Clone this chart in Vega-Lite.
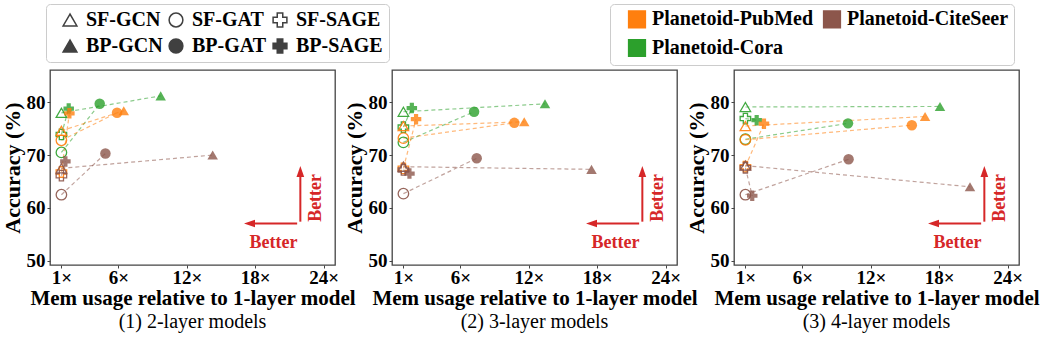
{
  "$schema": "https://vega.github.io/schema/vega-lite/v6.json",
  "background": "white",
  "padding": {"left": 0, "top": 3, "right": 0, "bottom": 0},
  "bounds": "flush",
  "spacing": 57,
  "datasets": {
    "pts": [
      {"panel": 1, "dataset": "Planetoid-Cora", "model": "SF-GCN", "method": "SF", "arch": "GCN", "mem": 1, "acc": 78.0},
      {"panel": 1, "dataset": "Planetoid-Cora", "model": "SF-GAT", "method": "SF", "arch": "GAT", "mem": 1, "acc": 70.5},
      {"panel": 1, "dataset": "Planetoid-Cora", "model": "SF-SAGE", "method": "SF", "arch": "SAGE", "mem": 1, "acc": 73.9},
      {"panel": 1, "dataset": "Planetoid-Cora", "model": "BP-GCN", "method": "BP", "arch": "GCN", "mem": 9.71, "acc": 81.2},
      {"panel": 1, "dataset": "Planetoid-Cora", "model": "BP-GAT", "method": "BP", "arch": "GAT", "mem": 4.36, "acc": 79.7},
      {"panel": 1, "dataset": "Planetoid-Cora", "model": "BP-SAGE", "method": "BP", "arch": "SAGE", "mem": 1.64, "acc": 78.8},
      {"panel": 1, "dataset": "Planetoid-PubMed", "model": "SF-GCN", "method": "SF", "arch": "GCN", "mem": 1, "acc": 74.6},
      {"panel": 1, "dataset": "Planetoid-PubMed", "model": "SF-GAT", "method": "SF", "arch": "GAT", "mem": 1, "acc": 72.8},
      {"panel": 1, "dataset": "Planetoid-PubMed", "model": "SF-SAGE", "method": "SF", "arch": "SAGE", "mem": 1, "acc": 66.8},
      {"panel": 1, "dataset": "Planetoid-PubMed", "model": "BP-GCN", "method": "BP", "arch": "GCN", "mem": 6.47, "acc": 78.4},
      {"panel": 1, "dataset": "Planetoid-PubMed", "model": "BP-GAT", "method": "BP", "arch": "GAT", "mem": 5.88, "acc": 78.0},
      {"panel": 1, "dataset": "Planetoid-PubMed", "model": "BP-SAGE", "method": "BP", "arch": "SAGE", "mem": 1.7, "acc": 77.9},
      {"panel": 1, "dataset": "Planetoid-CiteSeer", "model": "SF-GCN", "method": "SF", "arch": "GCN", "mem": 1, "acc": 67.5},
      {"panel": 1, "dataset": "Planetoid-CiteSeer", "model": "SF-GAT", "method": "SF", "arch": "GAT", "mem": 1, "acc": 62.5},
      {"panel": 1, "dataset": "Planetoid-CiteSeer", "model": "SF-SAGE", "method": "SF", "arch": "SAGE", "mem": 1, "acc": 66.1},
      {"panel": 1, "dataset": "Planetoid-CiteSeer", "model": "BP-GCN", "method": "BP", "arch": "GCN", "mem": 14.27, "acc": 70.0},
      {"panel": 1, "dataset": "Planetoid-CiteSeer", "model": "BP-GAT", "method": "BP", "arch": "GAT", "mem": 4.86, "acc": 70.3},
      {"panel": 1, "dataset": "Planetoid-CiteSeer", "model": "BP-SAGE", "method": "BP", "arch": "SAGE", "mem": 1.35, "acc": 68.8},
      {"panel": 2, "dataset": "Planetoid-Cora", "model": "SF-GCN", "method": "SF", "arch": "GCN", "mem": 1, "acc": 78.2},
      {"panel": 2, "dataset": "Planetoid-Cora", "model": "SF-GAT", "method": "SF", "arch": "GAT", "mem": 1, "acc": 72.4},
      {"panel": 2, "dataset": "Planetoid-Cora", "model": "SF-SAGE", "method": "SF", "arch": "SAGE", "mem": 1, "acc": 75.3},
      {"panel": 2, "dataset": "Planetoid-Cora", "model": "BP-GCN", "method": "BP", "arch": "GCN", "mem": 13.42, "acc": 79.7},
      {"panel": 2, "dataset": "Planetoid-Cora", "model": "BP-GAT", "method": "BP", "arch": "GAT", "mem": 7.2, "acc": 78.2},
      {"panel": 2, "dataset": "Planetoid-Cora", "model": "BP-SAGE", "method": "BP", "arch": "SAGE", "mem": 1.74, "acc": 78.9},
      {"panel": 2, "dataset": "Planetoid-PubMed", "model": "SF-GCN", "method": "SF", "arch": "GCN", "mem": 1, "acc": 75.5},
      {"panel": 2, "dataset": "Planetoid-PubMed", "model": "SF-GAT", "method": "SF", "arch": "GAT", "mem": 1, "acc": 73.2},
      {"panel": 2, "dataset": "Planetoid-PubMed", "model": "SF-SAGE", "method": "SF", "arch": "SAGE", "mem": 1, "acc": 67.5},
      {"panel": 2, "dataset": "Planetoid-PubMed", "model": "BP-GCN", "method": "BP", "arch": "GCN", "mem": 11.6, "acc": 76.3},
      {"panel": 2, "dataset": "Planetoid-PubMed", "model": "BP-GAT", "method": "BP", "arch": "GAT", "mem": 10.73, "acc": 76.1},
      {"panel": 2, "dataset": "Planetoid-PubMed", "model": "BP-SAGE", "method": "BP", "arch": "SAGE", "mem": 2.11, "acc": 76.8},
      {"panel": 2, "dataset": "Planetoid-CiteSeer", "model": "SF-GCN", "method": "SF", "arch": "GCN", "mem": 1, "acc": 67.8},
      {"panel": 2, "dataset": "Planetoid-CiteSeer", "model": "SF-GAT", "method": "SF", "arch": "GAT", "mem": 1, "acc": 62.7},
      {"panel": 2, "dataset": "Planetoid-CiteSeer", "model": "SF-SAGE", "method": "SF", "arch": "SAGE", "mem": 1, "acc": 67.2},
      {"panel": 2, "dataset": "Planetoid-CiteSeer", "model": "BP-GCN", "method": "BP", "arch": "GCN", "mem": 17.5, "acc": 67.3},
      {"panel": 2, "dataset": "Planetoid-CiteSeer", "model": "BP-GAT", "method": "BP", "arch": "GAT", "mem": 7.43, "acc": 69.4},
      {"panel": 2, "dataset": "Planetoid-CiteSeer", "model": "BP-SAGE", "method": "BP", "arch": "SAGE", "mem": 1.53, "acc": 66.5},
      {"panel": 3, "dataset": "Planetoid-Cora", "model": "SF-GCN", "method": "SF", "arch": "GCN", "mem": 1, "acc": 79.1},
      {"panel": 3, "dataset": "Planetoid-Cora", "model": "SF-GAT", "method": "SF", "arch": "GAT", "mem": 1, "acc": 73.0},
      {"panel": 3, "dataset": "Planetoid-Cora", "model": "SF-SAGE", "method": "SF", "arch": "SAGE", "mem": 1, "acc": 76.9},
      {"panel": 3, "dataset": "Planetoid-Cora", "model": "BP-GCN", "method": "BP", "arch": "GCN", "mem": 18.07, "acc": 79.2},
      {"panel": 3, "dataset": "Planetoid-Cora", "model": "BP-GAT", "method": "BP", "arch": "GAT", "mem": 10.0, "acc": 76.0},
      {"panel": 3, "dataset": "Planetoid-Cora", "model": "BP-SAGE", "method": "BP", "arch": "SAGE", "mem": 1.99, "acc": 76.6},
      {"panel": 3, "dataset": "Planetoid-PubMed", "model": "SF-GCN", "method": "SF", "arch": "GCN", "mem": 1, "acc": 75.5},
      {"panel": 3, "dataset": "Planetoid-PubMed", "model": "SF-GAT", "method": "SF", "arch": "GAT", "mem": 1, "acc": 72.9},
      {"panel": 3, "dataset": "Planetoid-PubMed", "model": "SF-SAGE", "method": "SF", "arch": "SAGE", "mem": 1, "acc": 67.8},
      {"panel": 3, "dataset": "Planetoid-PubMed", "model": "BP-GCN", "method": "BP", "arch": "GCN", "mem": 16.76, "acc": 77.3},
      {"panel": 3, "dataset": "Planetoid-PubMed", "model": "BP-GAT", "method": "BP", "arch": "GAT", "mem": 15.6, "acc": 75.65},
      {"panel": 3, "dataset": "Planetoid-PubMed", "model": "BP-SAGE", "method": "BP", "arch": "SAGE", "mem": 2.63, "acc": 75.95},
      {"panel": 3, "dataset": "Planetoid-CiteSeer", "model": "SF-GCN", "method": "SF", "arch": "GCN", "mem": 1, "acc": 68.0},
      {"panel": 3, "dataset": "Planetoid-CiteSeer", "model": "SF-GAT", "method": "SF", "arch": "GAT", "mem": 1, "acc": 62.5},
      {"panel": 3, "dataset": "Planetoid-CiteSeer", "model": "SF-SAGE", "method": "SF", "arch": "SAGE", "mem": 1, "acc": 67.6},
      {"panel": 3, "dataset": "Planetoid-CiteSeer", "model": "BP-GCN", "method": "BP", "arch": "GCN", "mem": 20.7, "acc": 64.0},
      {"panel": 3, "dataset": "Planetoid-CiteSeer", "model": "BP-GAT", "method": "BP", "arch": "GAT", "mem": 10.05, "acc": 69.2},
      {"panel": 3, "dataset": "Planetoid-CiteSeer", "model": "BP-SAGE", "method": "BP", "arch": "SAGE", "mem": 1.6, "acc": 62.3}
    ],
    "arrows": [
      {"dir": "left", "mem": 21.68, "acc": 57.05, "mem2": 17.5, "acc2": 57.05},
      {"dir": "up", "mem": 21.96, "acc": 57.4, "mem2": 21.96, "acc2": 66.9}
    ],
    "notes": [
      {"dir": "h", "label": "Better", "mem": 19.6, "acc": 53.4},
      {"dir": "v", "label": "Better", "mem": 23.32, "acc": 61.9}
    ]
  },
  "resolve": {"scale": {"color": "shared", "shape": "shared", "fill": "shared"}, "legend": {"color": "shared", "shape": "shared", "fill": "shared"}},
  "hconcat": [
    {
      "width": 285, "height": 195,
      "title": {"text": "(1) 2-layer models", "orient": "bottom", "font": "Liberation Serif, Times New Roman, DejaVu Serif, serif", "fontSize": 20, "fontWeight": "normal", "color": "#000", "offset": 4},
      "layer": [
        {"data": {"name": "pts"}, "transform": [{"filter": "datum.panel == 1"}],
         "mark": {"type": "line", "strokeDash": [4, 3], "strokeWidth": 1.2, "opacity": 0.55},
         "encoding": {
           "x": {"field": "mem", "type": "quantitative", "scale": {"domain": [0, 25], "nice": false, "zero": false}, "axis": {"values": [1, 6, 12, 18, 24], "labelExpr": "datum.value + '×'", "title": "Mem usage relative to 1-layer model", "titlePadding": 0}},
           "y": {"field": "acc", "type": "quantitative", "scale": {"domain": [49.2, 86.1], "nice": false, "zero": false}, "axis": {"values": [50, 60, 70, 80], "title": "Accuracy (%)", "titlePadding": 2}},
           "color": {"field": "dataset", "type": "nominal", "scale": {"domain": ["Planetoid-PubMed", "Planetoid-Cora", "Planetoid-CiteSeer"], "range": ["#ff7f0e", "#2ca02c", "#8c564b"]},
             "legend": {"orient": "none", "legendX": 560, "legendY": -66, "columns": 2, "symbolType": "square", "symbolSize": 280, "symbolOpacity": 1, "labelFont": "Liberation Serif, Times New Roman, DejaVu Serif, serif", "labelFontWeight": "bold", "labelFontSize": 20, "labelColor": "#000", "labelLimit": 400, "labelOffset": 5, "columnPadding": 6, "rowPadding": 5, "padding": 5, "strokeColor": "#cccccc", "cornerRadius": 4, "title": " ", "titleOrient": "left", "titleFontSize": 1, "titlePadding": 12,
               "encode": {"symbols": {"update": {"fill": {"scale": "color", "field": "value"}, "stroke": {"value": "transparent"}, "opacity": {"value": 1}, "fillOpacity": {"value": 1}, "strokeOpacity": {"value": 1}}}}}},
           "detail": {"field": "arch"}
         }},
        {"data": {"name": "pts"}, "transform": [{"filter": "datum.panel == 0"}],
         "mark": {"type": "point", "filled": true, "opacity": 1, "size": 190},
         "encoding": {
           "x": {"field": "mem", "type": "quantitative", "scale": {"domain": [0, 25], "nice": false, "zero": false}, "axis": {"values": [1, 6, 12, 18, 24], "labelExpr": "datum.value + '×'", "title": "Mem usage relative to 1-layer model", "titlePadding": 0}},
           "y": {"field": "acc", "type": "quantitative", "scale": {"domain": [49.2, 86.1], "nice": false, "zero": false}, "axis": {"values": [50, 60, 70, 80], "title": "Accuracy (%)", "titlePadding": 2}},
           "fill": {"field": "model", "type": "nominal", "scale": {"domain": ["SF-GCN", "BP-GCN", "SF-GAT", "BP-GAT", "SF-SAGE", "BP-SAGE"], "range": ["transparent", "#404040", "transparent", "#404040", "transparent", "#404040"]},
             "legend": {"orient": "none", "legendX": -4, "legendY": -66, "columns": 3, "symbolSize": 190, "symbolOpacity": 1, "symbolStrokeColor": "#404040", "symbolStrokeWidth": 1.5, "labelFont": "Liberation Serif, Times New Roman, DejaVu Serif, serif", "labelFontWeight": "bold", "labelFontSize": 20, "labelColor": "#000", "labelLimit": 400, "labelOffset": 6, "columnPadding": 3, "rowPadding": 6, "padding": 6, "strokeColor": "#cccccc", "cornerRadius": 4, "title": " ", "titleOrient": "left", "titleFontSize": 1, "titlePadding": 8,
               "encode": {"symbols": {"update": {"shape": {"scale": "shape", "field": "value"}, "stroke": {"value": "#404040"}, "strokeWidth": {"value": 1.5}, "strokeOpacity": {"value": 1}, "fillOpacity": {"value": 1}}}}}}
         }},
        {"data": {"name": "pts"}, "transform": [{"filter": "datum.panel == 1 && datum.method == 'SF'"}],
         "mark": {"type": "point", "filled": false, "strokeWidth": 1.3, "opacity": 0.9, "size": 110},
         "encoding": {
           "x": {"field": "mem", "type": "quantitative", "scale": {"domain": [0, 25], "nice": false, "zero": false}, "axis": {"values": [1, 6, 12, 18, 24], "labelExpr": "datum.value + '×'", "title": "Mem usage relative to 1-layer model", "titlePadding": 0}},
           "y": {"field": "acc", "type": "quantitative", "scale": {"domain": [49.2, 86.1], "nice": false, "zero": false}, "axis": {"values": [50, 60, 70, 80], "title": "Accuracy (%)", "titlePadding": 2}},
           "color": {"field": "dataset", "type": "nominal", "scale": {"domain": ["Planetoid-PubMed", "Planetoid-Cora", "Planetoid-CiteSeer"], "range": ["#ff7f0e", "#2ca02c", "#8c564b"]}},
           "shape": {"field": "model", "type": "nominal", "scale": {"domain": ["SF-GCN", "BP-GCN", "SF-GAT", "BP-GAT", "SF-SAGE", "BP-SAGE"], "range": ["triangle-up", "triangle-up", "circle", "circle", "cross", "cross"]}, "legend": null}
         }},
        {"data": {"name": "pts"}, "transform": [{"filter": "datum.panel == 1 && datum.method == 'BP'"}],
         "mark": {"type": "point", "filled": true, "opacity": 0.8, "size": 110},
         "encoding": {
           "x": {"field": "mem", "type": "quantitative", "scale": {"domain": [0, 25], "nice": false, "zero": false}, "axis": {"values": [1, 6, 12, 18, 24], "labelExpr": "datum.value + '×'", "title": "Mem usage relative to 1-layer model", "titlePadding": 0}},
           "y": {"field": "acc", "type": "quantitative", "scale": {"domain": [49.2, 86.1], "nice": false, "zero": false}, "axis": {"values": [50, 60, 70, 80], "title": "Accuracy (%)", "titlePadding": 2}},
           "color": {"field": "dataset", "type": "nominal", "scale": {"domain": ["Planetoid-PubMed", "Planetoid-Cora", "Planetoid-CiteSeer"], "range": ["#ff7f0e", "#2ca02c", "#8c564b"]}},
           "shape": {"field": "model", "type": "nominal", "scale": {"domain": ["SF-GCN", "BP-GCN", "SF-GAT", "BP-GAT", "SF-SAGE", "BP-SAGE"], "range": ["triangle-up", "triangle-up", "circle", "circle", "cross", "cross"]}, "legend": null}
         }},
        {"data": {"name": "arrows"},
         "mark": {"type": "rule", "color": "#d62728", "strokeWidth": 2},
         "encoding": {
           "x": {"field": "mem", "type": "quantitative"}, "x2": {"field": "mem2"},
           "y": {"field": "acc", "type": "quantitative"}, "y2": {"field": "acc2"}
         }},
        {"data": {"name": "arrows"}, "transform": [{"filter": "datum.dir == 'left'"}],
         "mark": {"type": "point", "shape": "M-1,0L1,-0.7L1,0.7Z", "filled": true, "color": "#d62728", "opacity": 1, "size": 121},
         "encoding": {"x": {"field": "mem2", "type": "quantitative"}, "y": {"field": "acc2", "type": "quantitative"}}},
        {"data": {"name": "arrows"}, "transform": [{"filter": "datum.dir == 'up'"}],
         "mark": {"type": "point", "shape": "M0,-1L0.7,1L-0.7,1Z", "filled": true, "color": "#d62728", "opacity": 1, "size": 121},
         "encoding": {"x": {"field": "mem2", "type": "quantitative"}, "y": {"field": "acc2", "type": "quantitative"}}},
        {"data": {"name": "notes"}, "transform": [{"filter": "datum.dir == 'h'"}],
         "mark": {"type": "text", "font": "Liberation Serif, Times New Roman, DejaVu Serif, serif", "fontWeight": "bold", "fontSize": 18, "color": "#d62728", "align": "center", "baseline": "middle"},
         "encoding": {"x": {"field": "mem", "type": "quantitative"}, "y": {"field": "acc", "type": "quantitative"}, "text": {"field": "label"}}},
        {"data": {"name": "notes"}, "transform": [{"filter": "datum.dir == 'v'"}],
         "mark": {"type": "text", "font": "Liberation Serif, Times New Roman, DejaVu Serif, serif", "fontWeight": "bold", "fontSize": 18, "color": "#d62728", "align": "center", "baseline": "middle", "angle": 270},
         "encoding": {"x": {"field": "mem", "type": "quantitative"}, "y": {"field": "acc", "type": "quantitative"}, "text": {"field": "label"}}}
      ]
    },
    {
      "width": 285, "height": 195,
      "title": {"text": "(2) 3-layer models", "orient": "bottom", "font": "Liberation Serif, Times New Roman, DejaVu Serif, serif", "fontSize": 20, "fontWeight": "normal", "color": "#000", "offset": 4},
      "layer": [
        {"data": {"name": "pts"}, "transform": [{"filter": "datum.panel == 2"}],
         "mark": {"type": "line", "strokeDash": [4, 3], "strokeWidth": 1.2, "opacity": 0.55},
         "encoding": {
           "x": {"field": "mem", "type": "quantitative", "scale": {"domain": [0, 25], "nice": false, "zero": false}, "axis": {"values": [1, 6, 12, 18, 24], "labelExpr": "datum.value + '×'", "title": "Mem usage relative to 1-layer model", "titlePadding": 0}},
           "y": {"field": "acc", "type": "quantitative", "scale": {"domain": [49.2, 86.1], "nice": false, "zero": false}, "axis": {"values": [50, 60, 70, 80], "title": "Accuracy (%)", "titlePadding": 2}},
           "color": {"field": "dataset", "type": "nominal", "scale": {"domain": ["Planetoid-PubMed", "Planetoid-Cora", "Planetoid-CiteSeer"], "range": ["#ff7f0e", "#2ca02c", "#8c564b"]}},
           "detail": {"field": "arch"}
         }},
        {"data": {"name": "pts"}, "transform": [{"filter": "datum.panel == 2 && datum.method == 'SF'"}],
         "mark": {"type": "point", "filled": false, "strokeWidth": 1.3, "opacity": 0.9, "size": 110},
         "encoding": {
           "x": {"field": "mem", "type": "quantitative", "scale": {"domain": [0, 25], "nice": false, "zero": false}, "axis": {"values": [1, 6, 12, 18, 24], "labelExpr": "datum.value + '×'", "title": "Mem usage relative to 1-layer model", "titlePadding": 0}},
           "y": {"field": "acc", "type": "quantitative", "scale": {"domain": [49.2, 86.1], "nice": false, "zero": false}, "axis": {"values": [50, 60, 70, 80], "title": "Accuracy (%)", "titlePadding": 2}},
           "color": {"field": "dataset", "type": "nominal", "scale": {"domain": ["Planetoid-PubMed", "Planetoid-Cora", "Planetoid-CiteSeer"], "range": ["#ff7f0e", "#2ca02c", "#8c564b"]}},
           "shape": {"field": "model", "type": "nominal", "scale": {"domain": ["SF-GCN", "BP-GCN", "SF-GAT", "BP-GAT", "SF-SAGE", "BP-SAGE"], "range": ["triangle-up", "triangle-up", "circle", "circle", "cross", "cross"]}, "legend": null}
         }},
        {"data": {"name": "pts"}, "transform": [{"filter": "datum.panel == 2 && datum.method == 'BP'"}],
         "mark": {"type": "point", "filled": true, "opacity": 0.8, "size": 110},
         "encoding": {
           "x": {"field": "mem", "type": "quantitative", "scale": {"domain": [0, 25], "nice": false, "zero": false}, "axis": {"values": [1, 6, 12, 18, 24], "labelExpr": "datum.value + '×'", "title": "Mem usage relative to 1-layer model", "titlePadding": 0}},
           "y": {"field": "acc", "type": "quantitative", "scale": {"domain": [49.2, 86.1], "nice": false, "zero": false}, "axis": {"values": [50, 60, 70, 80], "title": "Accuracy (%)", "titlePadding": 2}},
           "color": {"field": "dataset", "type": "nominal", "scale": {"domain": ["Planetoid-PubMed", "Planetoid-Cora", "Planetoid-CiteSeer"], "range": ["#ff7f0e", "#2ca02c", "#8c564b"]}},
           "shape": {"field": "model", "type": "nominal", "scale": {"domain": ["SF-GCN", "BP-GCN", "SF-GAT", "BP-GAT", "SF-SAGE", "BP-SAGE"], "range": ["triangle-up", "triangle-up", "circle", "circle", "cross", "cross"]}, "legend": null}
         }},
        {"data": {"name": "arrows"},
         "mark": {"type": "rule", "color": "#d62728", "strokeWidth": 2},
         "encoding": {
           "x": {"field": "mem", "type": "quantitative"}, "x2": {"field": "mem2"},
           "y": {"field": "acc", "type": "quantitative"}, "y2": {"field": "acc2"}
         }},
        {"data": {"name": "arrows"}, "transform": [{"filter": "datum.dir == 'left'"}],
         "mark": {"type": "point", "shape": "M-1,0L1,-0.7L1,0.7Z", "filled": true, "color": "#d62728", "opacity": 1, "size": 121},
         "encoding": {"x": {"field": "mem2", "type": "quantitative"}, "y": {"field": "acc2", "type": "quantitative"}}},
        {"data": {"name": "arrows"}, "transform": [{"filter": "datum.dir == 'up'"}],
         "mark": {"type": "point", "shape": "M0,-1L0.7,1L-0.7,1Z", "filled": true, "color": "#d62728", "opacity": 1, "size": 121},
         "encoding": {"x": {"field": "mem2", "type": "quantitative"}, "y": {"field": "acc2", "type": "quantitative"}}},
        {"data": {"name": "notes"}, "transform": [{"filter": "datum.dir == 'h'"}],
         "mark": {"type": "text", "font": "Liberation Serif, Times New Roman, DejaVu Serif, serif", "fontWeight": "bold", "fontSize": 18, "color": "#d62728", "align": "center", "baseline": "middle"},
         "encoding": {"x": {"field": "mem", "type": "quantitative"}, "y": {"field": "acc", "type": "quantitative"}, "text": {"field": "label"}}},
        {"data": {"name": "notes"}, "transform": [{"filter": "datum.dir == 'v'"}],
         "mark": {"type": "text", "font": "Liberation Serif, Times New Roman, DejaVu Serif, serif", "fontWeight": "bold", "fontSize": 18, "color": "#d62728", "align": "center", "baseline": "middle", "angle": 270},
         "encoding": {"x": {"field": "mem", "type": "quantitative"}, "y": {"field": "acc", "type": "quantitative"}, "text": {"field": "label"}}}
      ]
    },
    {
      "width": 285, "height": 195,
      "title": {"text": "(3) 4-layer models", "orient": "bottom", "font": "Liberation Serif, Times New Roman, DejaVu Serif, serif", "fontSize": 20, "fontWeight": "normal", "color": "#000", "offset": 4},
      "layer": [
        {"data": {"name": "pts"}, "transform": [{"filter": "datum.panel == 3"}],
         "mark": {"type": "line", "strokeDash": [4, 3], "strokeWidth": 1.2, "opacity": 0.55},
         "encoding": {
           "x": {"field": "mem", "type": "quantitative", "scale": {"domain": [0, 25], "nice": false, "zero": false}, "axis": {"values": [1, 6, 12, 18, 24], "labelExpr": "datum.value + '×'", "title": "Mem usage relative to 1-layer model", "titlePadding": 0}},
           "y": {"field": "acc", "type": "quantitative", "scale": {"domain": [49.2, 86.1], "nice": false, "zero": false}, "axis": {"values": [50, 60, 70, 80], "title": "Accuracy (%)", "titlePadding": 2}},
           "color": {"field": "dataset", "type": "nominal", "scale": {"domain": ["Planetoid-PubMed", "Planetoid-Cora", "Planetoid-CiteSeer"], "range": ["#ff7f0e", "#2ca02c", "#8c564b"]}},
           "detail": {"field": "arch"}
         }},
        {"data": {"name": "pts"}, "transform": [{"filter": "datum.panel == 3 && datum.method == 'SF'"}],
         "mark": {"type": "point", "filled": false, "strokeWidth": 1.3, "opacity": 0.9, "size": 110},
         "encoding": {
           "x": {"field": "mem", "type": "quantitative", "scale": {"domain": [0, 25], "nice": false, "zero": false}, "axis": {"values": [1, 6, 12, 18, 24], "labelExpr": "datum.value + '×'", "title": "Mem usage relative to 1-layer model", "titlePadding": 0}},
           "y": {"field": "acc", "type": "quantitative", "scale": {"domain": [49.2, 86.1], "nice": false, "zero": false}, "axis": {"values": [50, 60, 70, 80], "title": "Accuracy (%)", "titlePadding": 2}},
           "color": {"field": "dataset", "type": "nominal", "scale": {"domain": ["Planetoid-PubMed", "Planetoid-Cora", "Planetoid-CiteSeer"], "range": ["#ff7f0e", "#2ca02c", "#8c564b"]}},
           "shape": {"field": "model", "type": "nominal", "scale": {"domain": ["SF-GCN", "BP-GCN", "SF-GAT", "BP-GAT", "SF-SAGE", "BP-SAGE"], "range": ["triangle-up", "triangle-up", "circle", "circle", "cross", "cross"]}, "legend": null}
         }},
        {"data": {"name": "pts"}, "transform": [{"filter": "datum.panel == 3 && datum.method == 'BP'"}],
         "mark": {"type": "point", "filled": true, "opacity": 0.8, "size": 110},
         "encoding": {
           "x": {"field": "mem", "type": "quantitative", "scale": {"domain": [0, 25], "nice": false, "zero": false}, "axis": {"values": [1, 6, 12, 18, 24], "labelExpr": "datum.value + '×'", "title": "Mem usage relative to 1-layer model", "titlePadding": 0}},
           "y": {"field": "acc", "type": "quantitative", "scale": {"domain": [49.2, 86.1], "nice": false, "zero": false}, "axis": {"values": [50, 60, 70, 80], "title": "Accuracy (%)", "titlePadding": 2}},
           "color": {"field": "dataset", "type": "nominal", "scale": {"domain": ["Planetoid-PubMed", "Planetoid-Cora", "Planetoid-CiteSeer"], "range": ["#ff7f0e", "#2ca02c", "#8c564b"]}},
           "shape": {"field": "model", "type": "nominal", "scale": {"domain": ["SF-GCN", "BP-GCN", "SF-GAT", "BP-GAT", "SF-SAGE", "BP-SAGE"], "range": ["triangle-up", "triangle-up", "circle", "circle", "cross", "cross"]}, "legend": null}
         }},
        {"data": {"name": "arrows"},
         "mark": {"type": "rule", "color": "#d62728", "strokeWidth": 2},
         "encoding": {
           "x": {"field": "mem", "type": "quantitative"}, "x2": {"field": "mem2"},
           "y": {"field": "acc", "type": "quantitative"}, "y2": {"field": "acc2"}
         }},
        {"data": {"name": "arrows"}, "transform": [{"filter": "datum.dir == 'left'"}],
         "mark": {"type": "point", "shape": "M-1,0L1,-0.7L1,0.7Z", "filled": true, "color": "#d62728", "opacity": 1, "size": 121},
         "encoding": {"x": {"field": "mem2", "type": "quantitative"}, "y": {"field": "acc2", "type": "quantitative"}}},
        {"data": {"name": "arrows"}, "transform": [{"filter": "datum.dir == 'up'"}],
         "mark": {"type": "point", "shape": "M0,-1L0.7,1L-0.7,1Z", "filled": true, "color": "#d62728", "opacity": 1, "size": 121},
         "encoding": {"x": {"field": "mem2", "type": "quantitative"}, "y": {"field": "acc2", "type": "quantitative"}}},
        {"data": {"name": "notes"}, "transform": [{"filter": "datum.dir == 'h'"}],
         "mark": {"type": "text", "font": "Liberation Serif, Times New Roman, DejaVu Serif, serif", "fontWeight": "bold", "fontSize": 18, "color": "#d62728", "align": "center", "baseline": "middle"},
         "encoding": {"x": {"field": "mem", "type": "quantitative"}, "y": {"field": "acc", "type": "quantitative"}, "text": {"field": "label"}}},
        {"data": {"name": "notes"}, "transform": [{"filter": "datum.dir == 'v'"}],
         "mark": {"type": "text", "font": "Liberation Serif, Times New Roman, DejaVu Serif, serif", "fontWeight": "bold", "fontSize": 18, "color": "#d62728", "align": "center", "baseline": "middle", "angle": 270},
         "encoding": {"x": {"field": "mem", "type": "quantitative"}, "y": {"field": "acc", "type": "quantitative"}, "text": {"field": "label"}}}
      ]
    }
  ],
  "config": {
    "view": {"stroke": "#444444", "strokeWidth": 1.3},
    "axis": {"grid": false, "domain": false, "tickColor": "#444444", "tickSize": 3, "labelFont": "Liberation Serif, Times New Roman, DejaVu Serif, serif", "labelFontWeight": "bold", "labelFontSize": 19, "labelColor": "#000", "labelPadding": 1, "titleFont": "Liberation Serif, Times New Roman, DejaVu Serif, serif", "titleFontWeight": "bold", "titleFontSize": 21, "titleColor": "#000"},
    "axisX": {"labelPadding": 0},
    "axisY": {"titleFontSize": 22, "labelPadding": 2}
  }
}
